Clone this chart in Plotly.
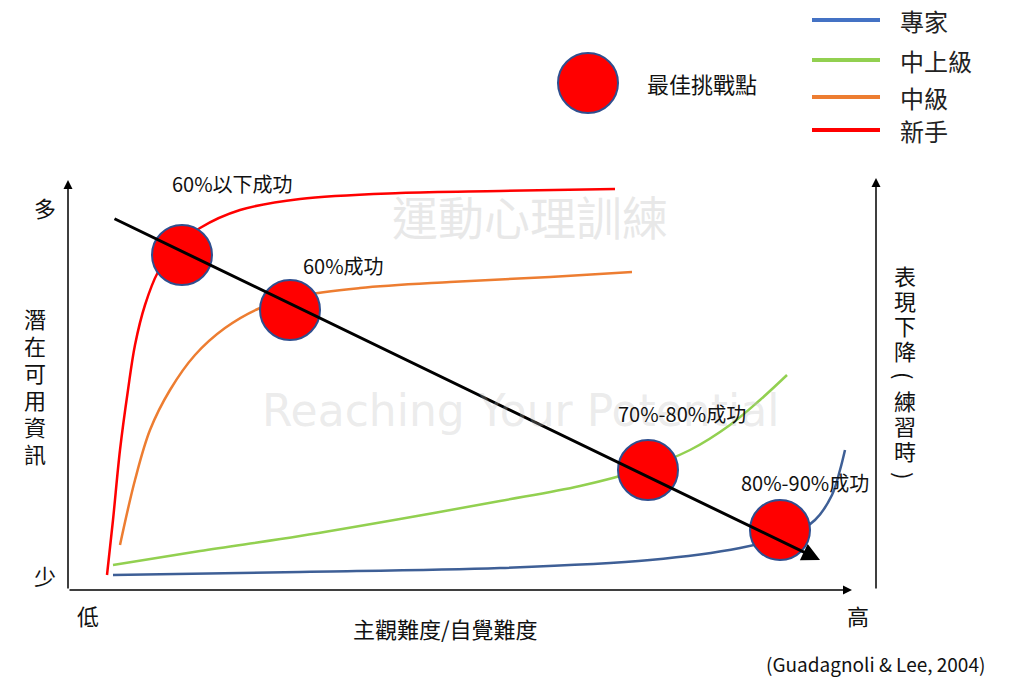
import plotly.graph_objects as go

# canvas-style coordinates (x: 0-1024 left->right, y: 0-685 top->bottom)
novice_x = [107, 113, 120, 128, 135, 145, 158, 175, 200, 240, 300, 400, 500, 615]
novice_y = [575, 520, 450, 390, 345, 305, 272, 248, 228, 210, 199, 193, 191, 189]
inter_x = [120, 135, 150, 170, 195, 225, 260, 300, 360, 450, 550, 632]
inter_y = [545, 480, 430, 390, 355, 328, 308, 296, 288, 282, 277, 272]
upper_x = [113, 200, 300, 400, 500, 580, 640, 690, 730, 760, 787]
upper_y = [565, 551, 536, 519, 501, 486, 470, 450, 425, 400, 375]
expert_x = [113, 300, 500, 650, 740, 790, 815, 832, 840, 845]
expert_y = [575, 572, 568, 560, 548, 535, 520, 495, 470, 450]
point_x = [182, 290, 648, 780]
point_y = [255, 310, 470, 530]
point_labels = ["60%以下成功", "60%成功", "70%-80%成功", "80%-90%成功"]
label_x = [232, 343, 682, 805]
label_y = [183, 265, 413, 482]
series_names = ["專家", "中上級", "中級", "新手"]
series_colors = ["#4472C4", "#92D050", "#ED7D31", "#FF0000"]

font = "Noto Sans CJK TC"
fig = go.Figure()
for xs, ys, c in [(novice_x, novice_y, "#FF0000"), (inter_x, inter_y, "#ED7D31"),
                  (upper_x, upper_y, "#92D050"), (expert_x, expert_y, "#3E5F96")]:
    fig.add_trace(go.Scatter(x=xs, y=ys, mode="lines", line=dict(color=c, width=2.5, shape="spline"),
                             showlegend=False, hoverinfo="skip"))

fig.add_trace(go.Scatter(x=point_x + [588], y=point_y + [83], mode="markers",
                         marker=dict(size=60, color="#FF0000", line=dict(color="#2F4F8F", width=2)),
                         showlegend=False, hoverinfo="skip"))

# legend lines
legend_y = [20, 60, 97, 130]
for name, c, ly in zip(series_names, series_colors, legend_y):
    fig.add_trace(go.Scatter(x=[812, 880], y=[ly, ly], mode="lines", line=dict(color=c, width=4),
                             showlegend=False, hoverinfo="skip"))
    fig.add_annotation(x=898, y=ly, text=name, showarrow=False, xanchor="left",
                       font=dict(size=24, family=font, color="#222"))

def arrow(x0, y0, x1, y1, w=1.5):
    fig.add_annotation(x=x1, y=y1, ax=x0, ay=y0, xref="x", yref="y", axref="x", ayref="y",
                       showarrow=True, arrowhead=2, arrowsize=1.2, arrowwidth=w, arrowcolor="black", text="")

arrow(68, 590, 68, 180)
arrow(68, 590, 852, 590)
arrow(876, 590, 876, 178)
arrow(113, 218, 820, 560, 3)

# faint watermark
fig.add_annotation(x=530, y=215, text="運動心理訓練", showarrow=False,
                   font=dict(size=46, family=font, color="rgba(190,190,190,0.35)"))
fig.add_annotation(x=520, y=410, text="Reaching Your Potential", showarrow=False,
                   font=dict(size=44, family="DejaVu Sans", color="rgba(190,190,190,0.3)"))

for t, x, y in zip(point_labels, label_x, label_y):
    fig.add_annotation(x=x, y=y, text=t, showarrow=False, font=dict(size=20, family=font, color="#111"))

texts = [("多", 45, 207, 22), ("少", 45, 575, 22), ("低", 88, 615, 22), ("高", 858, 615, 22),
         ("主觀難度/自覺難度", 445, 628, 22), ("最佳挑戰點", 702, 83, 22),
         ("(Guadagnoli & Lee, 2004)", 875, 663, 19)]
for t, x, y, s in texts:
    fig.add_annotation(x=x, y=y, text=t, showarrow=False, font=dict(size=s, family=font, color="#111"),
                       align="center")

# vertical labels, one character per line
left_label = "潛在可用資訊"
right_label = "表現下降(練習時)"
for i, ch in enumerate(left_label):
    fig.add_annotation(x=35, y=318 + i * 27, text=ch, showarrow=False,
                       font=dict(size=22, family=font, color="#111"))
for i, ch in enumerate(right_label):
    fig.add_annotation(x=905, y=275 + i * 25, text=ch, textangle=90 if ch in "()" else 0,
                       showarrow=False, font=dict(size=22, family=font, color="#111"))

# page has an 8px body margin: offset the ranges so data units equal page pixels
fig.update_xaxes(range=[8, 1016], visible=False, fixedrange=True)
fig.update_yaxes(range=[693, 8], visible=False, fixedrange=True)
fig.update_layout(margin=dict(l=0, r=0, t=0, b=0),
                  plot_bgcolor="white", paper_bgcolor="white")
fig.write_html("out.html", config={"responsive": True}, default_height="100vh")
